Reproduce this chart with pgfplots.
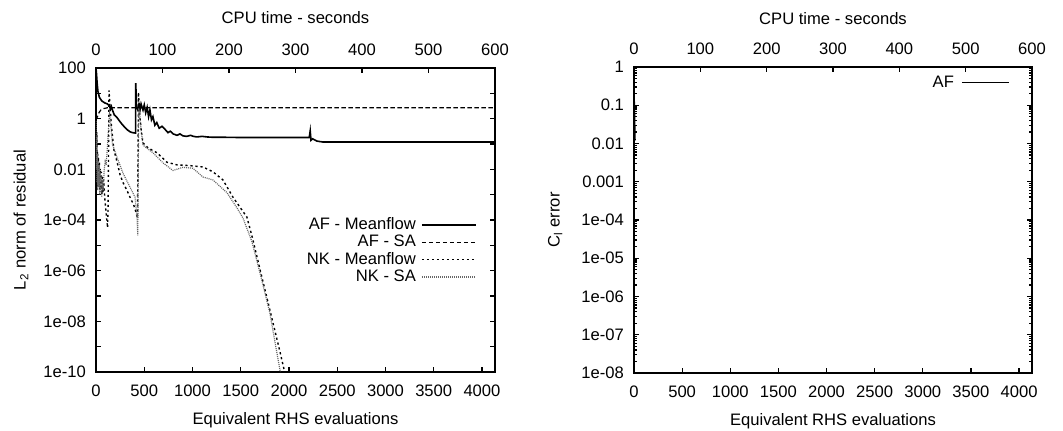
\documentclass[border=0pt]{standalone}
\usepackage{fontspec}
\setmainfont{Liberation Sans}
\usepackage{pgfplots}
\pgfplotsset{compat=1.18}

\pgfplotsset{
  gp/.style={
    scale only axis, anchor=south west,
    font=\fontsize{8.3}{10}\selectfont,
    /pgf/number format/assume math mode=true,
    /pgf/number format/1000 sep={},
    axis line style={line width=0.8pt},
    tick style={line width=0.6pt, black},
    major tick length=2.5pt, minor tick length=1.3pt,
    tick align=inside,
    xticklabel shift=2.8pt, yticklabel shift=1.5pt,
  },
  toptime/.style={gp, xmin=0, xmax=600, ymin=0, ymax=1,
    axis x line*=top, axis y line=none, xtick={0,100,...,600},
    xlabel={CPU time - seconds},
  },
  gplegend/.style={
    legend plot pos=right, legend cell align=right,
    legend style={draw=none, fill=none, inner sep=0pt, row sep=0pt,
      column sep=2pt, nodes={inner sep=0.6pt, text height=6pt, text depth=1.5pt}},
  },
  afmean/.style={black, line width=0.8pt},
  afsa/.style={black, line width=0.6pt, dash pattern=on 2.2pt off 1.3pt},
  nkmean/.style={black, line width=0.7pt, dash pattern=on 1.1pt off 1.4pt},
  nksa/.style={black!60, line width=0.6pt, dash pattern=on 0.5pt off 0.5pt},
}

\begin{document}
\begin{tikzpicture}
\path[use as bounding box] (0,0) rectangle (531.5pt,-215.5pt);

% ---- left panel: residual ----
\begin{axis}[gp, gplegend,
  at={(48pt,-186pt)}, width=199.5pt, height=152pt,
  ymode=log, xmin=0, xmax=4135, ymin=1e-10, ymax=100,
  xtick={0,500,...,4000}, xtick pos=left,
  ytick={1e-10,1e-9,1e-8,1e-7,1e-6,1e-5,1e-4,1e-3,1e-2,1e-1,1,10,100},
  yticklabels={1e-10,,1e-08,,1e-06,,1e-04,,0.01,,1,,100},
  yminorticks=false,
  xlabel={Equivalent RHS evaluations},
  xlabel style={at={(axis description cs:0.5,-0.174)}, anchor=base},
  ylabel={L\textsubscript{2} norm of residual},
  ylabel style={at={(axis description cs:-0.188,0.5)}, anchor=center},
  legend style={at={(0.955,0.514)}, anchor=north east},
  legend image code/.code={\draw[#1] (0pt,0pt) -- (27pt,0pt);},
]
\addplot[afmean] coordinates {
(0,100) (5,60) (12,25) (20,12) (35,7) (60,5) (90,4.2) (120,3.8) (140,3.2)
(150,2.4) (160,3.0) (170,2.2) (190,1.4) (218,1.1) (245,0.8) (270,0.6)
(300,0.45) (330,0.35) (355,0.3) (380,0.28) (410,0.27) (412,25) (420,3)
(435,2.2) (445,3.5) (456,2.2) (467,3.8) (487,2.2) (500,3.5) (515,1.7)
(530,2.8) (545,1.2) (559,2.2) (575,0.9) (590,1.2) (610,0.55) (630,0.7)
(655,0.42) (684,0.5) (715,0.38) (746,0.28) (770,0.32) (800,0.25) (840,0.22)
(870,0.25) (900,0.21) (940,0.2) (980,0.22) (1010,0.2) (1046,0.19) (1100,0.2)
(1150,0.19) (1200,0.185) (1300,0.185) (1500,0.18) (1800,0.18) (2210,0.18)
(2220,0.33) (2228,0.14) (2245,0.16) (2290,0.13) (2350,0.12) (2600,0.12)
(4135,0.12)};
\addlegendentry{AF - Meanflow}
\addplot[afsa] coordinates {
(0,0.9) (15,1.2) (30,1.7) (50,2.2) (80,2.5) (120,2.7) (4135,2.7)};
\addlegendentry{AF - SA}
\addplot[nkmean] coordinates {
(0,1.5) (4,0.02) (8,0.3) (12,0.004) (16,0.05) (20,0.002) (25,0.03)
(30,0.003) (35,0.02) (40,0.0015) (45,0.01) (50,0.002) (55,0.008) (60,0.001)
(65,0.005) (72,0.0012) (80,0.004) (90,8e-4) (100,3e-4) (110,1.2e-4)
(120,5e-5) (125,3e-4) (130,0.05) (135,13) (145,3) (160,0.5) (185,0.06)
(218,0.02) (250,0.006) (280,0.003) (320,0.0015) (352,8e-4) (390,4e-4)
(415,2e-4) (430,1.2e-4) (435,0.02) (440,11) (452,1.5) (470,0.3) (487,0.11)
(540,0.07) (632,0.045) (736,0.019) (839,0.015) (974,0.014) (1108,0.0124)
(1212,0.008) (1316,0.0038) (1419,8e-4) (1492,3.2e-4) (1564,1.3e-4)
(1627,1.6e-5) (1700,1.1e-6) (1800,3e-8) (1900,8e-10) (1955,1e-10)};
\addlegendentry{NK - Meanflow}
\addplot[nksa] coordinates {
(0,0.8) (3,0.01) (7,0.2) (11,0.003) (15,0.04) (19,0.0015) (24,0.02)
(29,0.002) (34,0.015) (39,0.001) (44,0.008) (49,0.0012) (54,0.006) (60,8e-4)
(66,0.004) (75,0.0015) (85,0.01) (95,0.02) (105,0.015) (115,0.05) (125,0.2)
(140,1.5) (150,0.8) (170,0.1) (218,0.03) (280,0.007) (352,0.002) (404,8e-4)
(425,1.3e-4) (433,2.5e-5) (438,0.01) (443,2.6) (455,1.2) (470,0.3) (487,0.09)
(590,0.045) (694,0.018) (798,0.009) (901,0.012) (1005,0.011) (1108,0.005)
(1212,0.0038) (1357,0.0012) (1461,3e-4) (1523,1.2e-4) (1616,1.4e-5)
(1700,8e-7) (1800,2.3e-8) (1910,1e-10)};
\addlegendentry{NK - SA}
\end{axis}
\begin{axis}[toptime, at={(48pt,-186pt)}, width=199.5pt, height=152pt,
  xlabel style={at={(axis description cs:0.5,1.145)}, anchor=base}]
\end{axis}

% ---- right panel: Cl error ----
\begin{axis}[gp, gplegend,
  at={(317pt,-186.5pt)}, width=199pt, height=153pt,
  ymode=log, xmin=0, xmax=4135, ymin=1e-8, ymax=1,
  xtick={0,500,...,4000}, xtick pos=left,
  ytick={1e-8,1e-7,1e-6,1e-5,1e-4,1e-3,1e-2,1e-1,1},
  yticklabels={1e-08,1e-07,1e-06,1e-05,1e-04,0.001,0.01,0.1,1},
  minor ytick={2e-8,3e-8,4e-8,5e-8,6e-8,7e-8,8e-8,9e-8,
    2e-7,3e-7,4e-7,5e-7,6e-7,7e-7,8e-7,9e-7,
    2e-6,3e-6,4e-6,5e-6,6e-6,7e-6,8e-6,9e-6,
    2e-5,3e-5,4e-5,5e-5,6e-5,7e-5,8e-5,9e-5,
    2e-4,3e-4,4e-4,5e-4,6e-4,7e-4,8e-4,9e-4,
    2e-3,3e-3,4e-3,5e-3,6e-3,7e-3,8e-3,9e-3,
    2e-2,3e-2,4e-2,5e-2,6e-2,7e-2,8e-2,9e-2,
    0.2,0.3,0.4,0.5,0.6,0.7,0.8,0.9},
  xlabel={Equivalent RHS evaluations},
  xlabel style={at={(axis description cs:0.5,-0.173)}, anchor=base},
  ylabel={C\textsubscript{l} error},
  ylabel style={at={(axis description cs:-0.198,0.5)}, anchor=center},
  legend style={at={(0.945,0.979)}, anchor=north east, column sep=3pt},
  legend image code/.code={\draw[#1] (0pt,0pt) -- (23.5pt,0pt);},
]
\addplot[afmean] coordinates {(0,0.19) (3,0.1) (6,0.04) (10,0.012)};
\addlegendentry{AF}
\end{axis}
\begin{axis}[toptime, at={(317pt,-186.5pt)}, width=199pt, height=153pt,
  xlabel style={at={(axis description cs:0.5,1.14)}, anchor=base}]
\end{axis}
\end{tikzpicture}
\end{document}
